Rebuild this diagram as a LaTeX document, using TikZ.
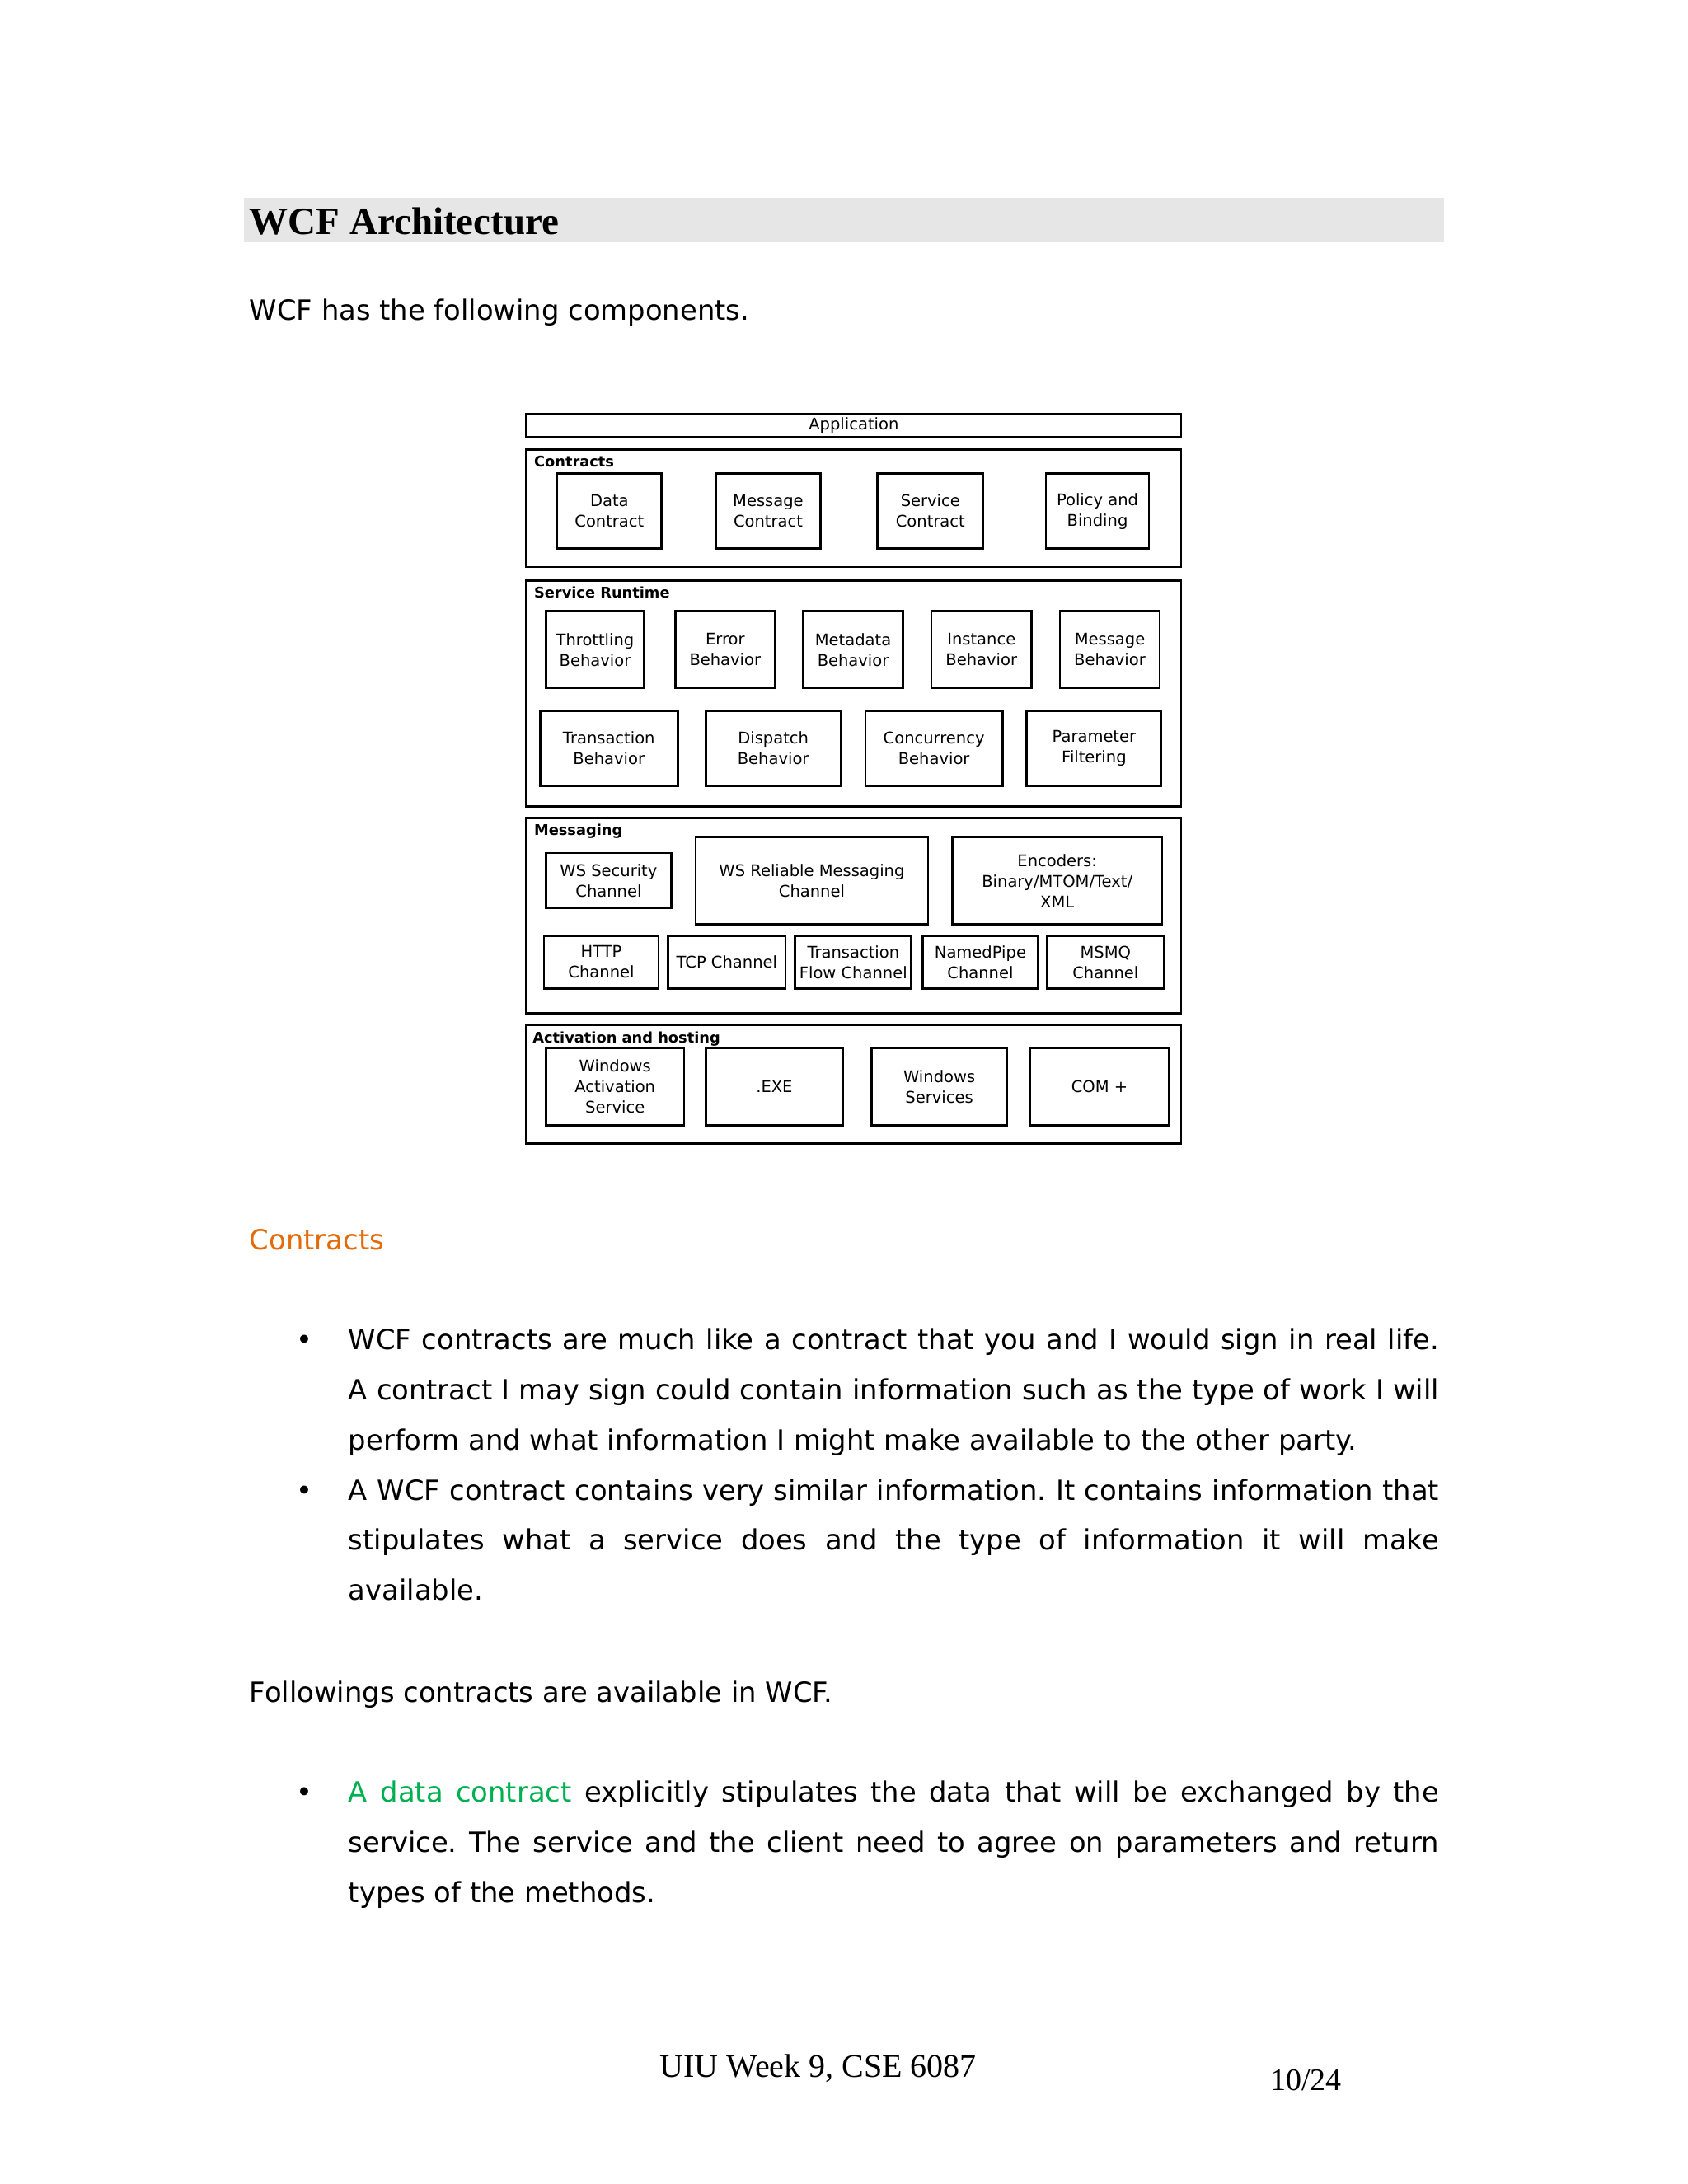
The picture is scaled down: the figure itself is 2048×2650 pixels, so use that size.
\documentclass[tikz,border=0pt]{standalone}
\usepackage{fontspec}
\setmainfont{DejaVu Sans}
\newfontfamily\tnrfont{Liberation Serif}
\definecolor{hdgray}{HTML}{E6E6E6}
\definecolor{orangeh}{RGB}{227,108,10}
\definecolor{greenh}{RGB}{0,176,80}
\frenchspacing
\tikzset{
  bx/.style={draw=black, line width=1.35pt, rectangle, inner sep=0pt, align=center,
    font=\fontsize{9.75pt}{12.5pt}\selectfont},
  lbl/.style={anchor=base west, inner sep=0pt, font=\bfseries\fontsize{8.9pt}{10pt}\selectfont},
  body/.style={anchor=base west, inner sep=0pt, font=\fontsize{16.9pt}{20pt}\selectfont},
  bul/.style={anchor=base, inner sep=0pt, font=\fontsize{16.9pt}{20pt}\selectfont},
}
\newcommand\bx[6]{\node[bx, minimum width={(#4-#2)*0.5pt}, minimum height={(#5-#3)*0.5pt}] (#1) at ({(#2+#4)/2},{(#3+#5)/2}) {#6};}
\newcommand\jline[1]{\makebox[661.5pt][s]{#1}}
\begin{document}
\begin{tikzpicture}[x=0.5pt,y=-0.5pt]
\useasboundingbox (0,0) rectangle (2048,2650);
\fill[white] (0,0) rectangle (2048,2650);
% heading
\fill[hdgray] (295.7,240) rectangle (1752.3,294);
\node[anchor=base west, inner sep=0pt, font=\tnrfont\bfseries\fontsize{23.5pt}{28pt}\selectfont] (title) at (302.5,284) {WCF Architecture};
\node[body] (intro) at (302.5,388.5) {WCF has the following components.};
% diagram
\bx{app}{638.7}{501.9}{1433}{530.6}{Application}
\bx{gcon}{638.7}{545.8}{1433}{688}{}
\node[lbl] (lcon) at (647.7,566) {Contracts};
\bx{dc}{676}{574.5}{802.7}{665.8}{Data\\Contract}
\bx{mc}{868.6}{574.5}{995.3}{665.8}{Message\\Contract}
\bx{sc}{1064.6}{574.5}{1193}{665.8}{Service\\Contract}
\bx{pb}{1269}{574.5}{1394}{665.8}{Policy and\\Binding}
\bx{gsr}{638.7}{704.6}{1433}{978.4}{}
\node[lbl] (lsr) at (647.7,725) {Service Runtime};
\bx{thr}{662.5}{741.7}{781.4}{835}{Throttling\\Behavior}
\bx{err}{819.6}{741.7}{940}{835}{Error\\Behavior}
\bx{met}{974.6}{741.7}{1095.5}{835}{Metadata\\Behavior}
\bx{ins}{1130}{741.7}{1251.5}{835}{Instance\\Behavior}
\bx{msb}{1286}{741.7}{1407}{835}{Message\\Behavior}
\bx{trb}{655.3}{862.3}{822.2}{953.3}{Transaction\\Behavior}
\bx{dis}{856.3}{862.3}{1020}{953.3}{Dispatch\\Behavior}
\bx{con}{1050}{862.3}{1216.3}{953.3}{Concurrency\\Behavior}
\bx{par}{1245.8}{862.3}{1409}{953.3}{Parameter\\Filtering}
\bx{gms}{638.7}{992.8}{1433}{1229.5}{}
\node[lbl] (lms) at (647.7,1013.5) {Messaging};
\bx{wss}{662.5}{1035}{814.4}{1101.7}{WS Security\\Channel}
\bx{wsr}{843.9}{1015.7}{1126}{1121.7}{WS Reliable Messaging\\Channel}
\bx{enc}{1155.4}{1015.7}{1410}{1121.7}{Encoders:\\Binary/MTOM/Text/\\XML}
\bx{http}{660}{1135.7}{799}{1199.3}{HTTP\\Channel}
\bx{tcp}{810.8}{1135.7}{952.9}{1199.3}{TCP Channel}
\bx{tfc}{964.8}{1135.7}{1105.8}{1199.3}{Transaction\\Flow Channel}
\bx{npc}{1119.7}{1135.7}{1259.2}{1199.3}{NamedPipe\\Channel}
\bx{msmq}{1270.6}{1135.7}{1412}{1199.3}{MSMQ\\Channel}
\bx{gah}{638.7}{1244}{1433}{1387.3}{}
\node[lbl] (lah) at (646,1265) {Activation and hosting};
\bx{was}{662.5}{1271.7}{830}{1365.7}{Windows\\Activation\\Service}
\bx{exe}{856.3}{1271.7}{1022.6}{1365.7}{.EXE}
\bx{wsv}{1057.7}{1271.7}{1221.5}{1365.7}{Windows\\Services}
\bx{com}{1250}{1271.7}{1418}{1365.7}{COM +}
% Contracts section
\node[body, text=orangeh] (sec) at (302.5,1516) {Contracts};
\node[bul] (b1) at (369,1637.6) {•};
\node[body] (t11) at (422.5,1637.6) {\jline{WCF contracts are much like a contract that you and I would sign in real life.}};
\node[body] (t12) at (422.5,1698.4) {\jline{A contract I may sign could contain information such as the type of work I will}};
\node[body] (t13) at (422.5,1759.3) {perform and what information I might make available to the other party.};
\node[bul] (b2) at (369,1820.1) {•};
\node[body] (t21) at (422.5,1820.1) {\jline{A WCF contract contains very similar information. It contains information that}};
\node[body] (t22) at (422.5,1880.9) {\jline{stipulates what a service does and the type of information it will make}};
\node[body] (t23) at (422.5,1941.7) {available.};
\node[body] (fol) at (302.5,2065.1) {Followings contracts are available in WCF.};
\node[bul] (b3) at (369,2186.8) {•};
\node[body] (t31) at (422.5,2186.8) {\jline{\textcolor{greenh}{A data contract} explicitly stipulates the data that will be exchanged by the}};
\node[body] (t32) at (422.5,2247.6) {\jline{service. The service and the client need to agree on parameters and return}};
\node[body] (t33) at (422.5,2308.4) {types of the methods.};
% footer
\node[anchor=base west, inner sep=0pt, font=\tnrfont\fontsize{20pt}{24pt}\selectfont] (foot) at (800,2520) {UIU Week 9, CSE 6087};
\node[anchor=base west, inner sep=0pt, font=\tnrfont\fontsize{19pt}{24pt}\selectfont] (pg) at (1540.6,2536.7) {10/24};
\end{tikzpicture}
\end{document}
